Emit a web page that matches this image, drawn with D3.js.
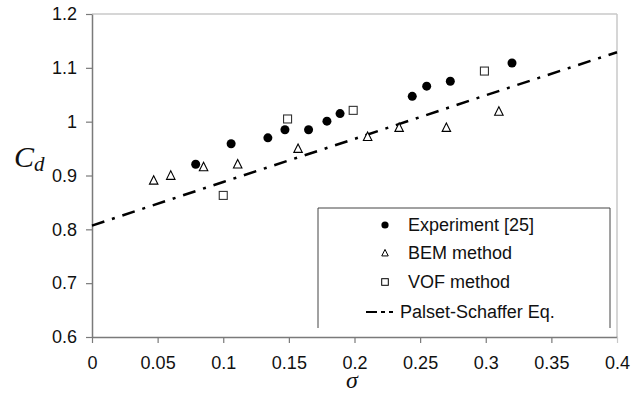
<!DOCTYPE html>
<html><head><meta charset="utf-8">
<script src="https://cdn.jsdelivr.net/npm/d3@7"></script>
<style>
html,body{margin:0;padding:0;background:#fff;}
svg{display:block;}
text{font-family:"Liberation Sans",Arial,sans-serif;}
</style></head>
<body>
<svg id="chart" width="638" height="394"></svg>
<script>
// ---- data ----
const expSigma = [0.079, 0.106, 0.134, 0.147, 0.165, 0.179, 0.189, 0.244, 0.255, 0.273, 0.320];
const expCd    = [0.921, 0.959, 0.970, 0.985, 0.985, 1.001, 1.015, 1.047, 1.066, 1.075, 1.109];
const bemSigma = [0.047, 0.060, 0.085, 0.111, 0.157, 0.210, 0.234, 0.270, 0.310];
const bemCd    = [0.891, 0.900, 0.916, 0.921, 0.950, 0.972, 0.989, 0.989, 1.019];
const vofSigma = [0.100, 0.149, 0.199, 0.299];
const vofCd    = [0.863, 1.005, 1.021, 1.094];
const psSigma  = [0, 0.1, 0.2, 0.3, 0.4];
const psCd     = [0.807, 0.888, 0.968, 1.049, 1.129];
const xTicks = [0, 0.05, 0.1, 0.15, 0.2, 0.25, 0.3, 0.35, 0.4];
const yTicks = [0.6, 0.7, 0.8, 0.9, 1.0, 1.1, 1.2];
const legendLabels = ["Experiment [25]", "BEM method", "VOF method", "Palset-Schaffer Eq."];

const svg = d3.select("#chart");
const L = 92, R = 617, T = 14, B = 337;
const x = d3.scaleLinear().domain([0, 0.4]).range([L, R]);
const y = d3.scaleLinear().domain([0.6, 1.2]).range([B, T]);

// frame top/right
svg.append("line").attr("x1", L).attr("x2", R).attr("y1", T).attr("y2", T)
  .attr("stroke", "#c8c8c8").attr("stroke-width", 1.5);
svg.append("line").attr("x1", R).attr("x2", R).attr("y1", T).attr("y2", B)
  .attr("stroke", "#c8c8c8").attr("stroke-width", 1.5);

// axes
const xAxis = svg.append("g").attr("transform", `translate(0,${B})`)
  .call(d3.axisBottom(x).tickValues(xTicks).tickSize(6).tickSizeOuter(0).tickPadding(10)
  .tickFormat(d => String(+d.toFixed(2))));
const yAxis = svg.append("g").attr("transform", `translate(${L},0)`)
  .call(d3.axisLeft(y).tickValues(yTicks).tickSize(6).tickSizeOuter(0).tickPadding(9)
  .tickFormat(d => String(+d.toFixed(1))));
[xAxis, yAxis].forEach(g => {
  g.select(".domain").attr("stroke", "#7a7a7a").attr("stroke-width", 1.5);
  g.selectAll(".tick line").attr("stroke", "#7a7a7a").attr("stroke-width", 1.2);
  g.selectAll(".tick text").attr("fill", "#111").style("font-size", "18px")
    .style("font-family", '"Liberation Sans",Arial,sans-serif');
});
xAxis.selectAll(".tick text").attr("dy", "0.9em");
xAxis.selectAll(".tick").filter(d => d === 0.4).select("line").attr("stroke", "#c8c8c8");

// Palset-Schaffer line
const line = d3.line().x(d => x(d[0])).y(d => y(d[1]));
svg.append("path").datum(psSigma.map((s, i) => [s, psCd[i]]))
  .attr("d", line).attr("fill", "none").attr("stroke", "#000")
  .attr("stroke-width", 2.5).attr("stroke-dasharray", "13,8,3,8");

// markers
const triPath = (cx, cy, s) => `M${cx},${cy - s * 0.55}L${cx + s / 2},${cy + s * 0.45}L${cx - s / 2},${cy + s * 0.45}Z`;
svg.append("g").selectAll("path").data(bemSigma.map((s, i) => [s, bemCd[i]])).join("path")
  .attr("d", d => triPath(x(d[0]), y(d[1]), 8.5)).attr("fill", "#fff")
  .attr("stroke", "#000").attr("stroke-width", 1.1);
svg.append("g").selectAll("rect").data(vofSigma.map((s, i) => [s, vofCd[i]])).join("rect")
  .attr("x", d => x(d[0]) - 4).attr("y", d => y(d[1]) - 4).attr("width", 8).attr("height", 8)
  .attr("fill", "#fff").attr("stroke", "#333").attr("stroke-width", 1.1);
svg.append("g").selectAll("circle").data(expSigma.map((s, i) => [s, expCd[i]])).join("circle")
  .attr("cx", d => x(d[0])).attr("cy", d => y(d[1])).attr("r", 4.5).attr("fill", "#000");

// legend
const lg = svg.append("g");
lg.append("path").attr("d", "M318,328V208H610V328").attr("fill", "#fff")
  .attr("stroke", "#444").attr("stroke-width", 1);
const rowsY = [225, 253, 282, 312];
const mx = 385, tx = 408;
lg.append("circle").attr("cx", mx).attr("cy", rowsY[0]).attr("r", 3.6).attr("fill", "#000");
lg.append("path").attr("d", triPath(mx, rowsY[1], 6.5)).attr("fill", "#fff").attr("stroke", "#000").attr("stroke-width", 1);
lg.append("rect").attr("x", mx - 3.3).attr("y", rowsY[2] - 3.3).attr("width", 6.6).attr("height", 6.6)
  .attr("fill", "#fff").attr("stroke", "#000").attr("stroke-width", 1);
lg.append("line").attr("x1", 366).attr("x2", 396).attr("y1", rowsY[3]).attr("y2", rowsY[3])
  .attr("stroke", "#000").attr("stroke-width", 2).attr("stroke-dasharray", "11,4,4,4,4,4");
legendLabels.forEach((t, i) => {
  lg.append("text").attr("x", i === 3 ? 400 : tx).attr("y", rowsY[i]).attr("dy", "0.35em")
    .style("font-size", "18px").attr("fill", "#111").text(t);
});

// axis titles
const cd = svg.append("text").attr("x", 14).attr("y", 167)
  .style("font-family", '"Liberation Serif","Times New Roman",serif').style("font-style", "italic")
  .style("font-size", "30px").attr("fill", "#111");
cd.append("tspan").text("C");
cd.append("tspan").attr("dy", 4).style("font-size", "21px").text("d");
svg.append("text").attr("x", 352).attr("y", 388).attr("text-anchor", "middle")
  .style("font-family", '"Liberation Serif","Times New Roman",serif').style("font-style", "italic")
  .style("font-size", "24px").attr("fill", "#111").text("σ");
</script>
</body></html>
